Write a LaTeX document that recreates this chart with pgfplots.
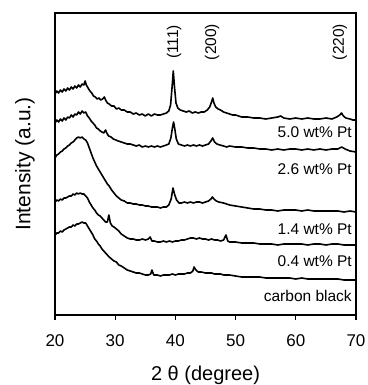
\documentclass[border=0pt]{standalone}
\usepackage{fontspec}
\setmainfont{Liberation Sans}
\usepackage{pgfplots}
\pgfplotsset{compat=1.18}
\pgfplotsset{xrd/.style={black, line width=1.6pt, line join=round, mark=none}}
\begin{document}
\begin{tikzpicture}
\path[use as bounding box] (-55pt,-70pt) rectangle (312pt,315pt);
\begin{axis}[
  at={(0,0)}, anchor=south west,
  scale only axis, width=301pt, height=302pt,
  xmin=20, xmax=70, ymin=0, ymax=302,
  xtick={20,30,40,50,60,70}, ytick=\empty,
  tick align=outside, xtick pos=left,
  major tick length=5pt,
  axis line style={line width=1.3pt},
  every tick/.style={black, line width=1.3pt},
  /pgf/number format/assume math mode=true,
  ticklabel style={font=\fontsize{17}{17}\selectfont},
  xticklabel style={yshift=-11pt},
  xlabel={2 θ (degree)},
  ylabel={Intensity (a.u.)},
  every axis x label/.style={at={(axis description cs:0.5,-0.199)}, anchor=center, font=\fontsize{20}{20}\selectfont},
  every axis y label/.style={at={(axis description cs:-0.0997,0.5)}, rotate=90, anchor=center, font=\fontsize{21}{21}\selectfont},
]
% 5.0 wt% Pt
\addplot[xrd] table {
x y
20.0 221
20.3 224
20.6 222
20.9 225
21.2 223
21.5 226
21.8 224
22.1 227
22.4 225
22.7 228
23.0 226
23.3 229
23.6 227
23.9 230
24.2 228
24.5 231
24.8 230
25.0 234
25.2 230
25.5 227
25.8 224
26.1 222
26.4 219
26.7 218
27.0 216
27.3 217
27.6 215
27.9 216
28.2 218
28.4 215
28.7 212
29.0 211
29.4 209
29.8 209
30.2 206
30.6 207
31.0 205
31.5 205
32.0 203
32.5 203
33.0 201
33.5 202
34.0 200
34.5 201
35.0 199
35.5 201
36.0 199
36.5 201
37.0 200
37.5 200
38.0 201
38.5 202
38.9 204
39.2 210
39.45 228
39.65 244
39.85 228
40.1 212
40.4 207
40.8 205
41.3 204
41.8 203
42.3 204
42.8 202
43.3 203
43.8 202
44.3 203
44.8 203
45.3 205
45.7 208
46.0 213
46.2 217
46.4 212
46.7 208
47.1 206
47.5 205
48.0 203
48.5 202
49.0 201
49.5 200
50.0 200
51.0 198
52.0 198
53.0 197
54.0 197
55.0 196
56.0 197
57.0 198
57.5 199
58.0 197
59.0 196
60.0 197
61.0 196
62.0 197
63.0 196
64.0 196
65.0 197
66.0 196
66.8 198
67.3 200
67.6 202
67.9 199
68.3 197
69.0 196
69.5 195
70.0 195
};
% 2.6 wt% Pt
\addplot[xrd] table {
x y
20.0 192
20.3 195
20.6 193
20.9 196
21.2 194
21.5 197
21.8 195
22.1 198
22.4 197
22.7 200
23.0 198
23.3 201
23.6 200
23.9 203
24.2 201
24.5 204
24.8 202
25.1 203
25.4 199
25.7 197
26.0 194
26.3 192
26.6 190
26.9 187
27.2 186
27.5 184
27.8 183
28.1 182
28.4 185
28.6 182
28.9 179
29.3 178
29.7 176
30.1 175
30.5 174
31.0 173
31.5 172
32.0 171
32.5 171
33.0 170
33.5 169
34.0 170
34.5 168
35.0 169
35.5 168
36.0 169
36.5 168
37.0 169
37.5 168
38.0 169
38.5 170
38.9 171
39.25 177
39.5 187
39.7 193
39.9 186
40.15 176
40.5 171
41.0 170
41.5 169
42.0 170
42.5 169
43.0 170
43.5 169
44.0 170
44.5 169
45.0 170
45.5 171
45.9 174
46.2 177
46.5 173
46.9 171
47.4 170
48.0 169
48.5 168
49.0 169
50.0 168
51.0 168
52.0 167
53.0 167
54.0 166
55.0 166
56.0 165
57.0 166
58.0 165
59.0 166
60.0 166
61.0 165
62.0 166
63.0 165
64.0 166
65.0 165
66.0 166
67.0 166
67.6 168
68.2 166
69.0 164
70.0 163
};
% 1.4 wt% Pt
\addplot[xrd] table {
x y
20.0 157
20.3 160
20.6 161
20.9 163
21.2 164
21.5 166
21.8 167
22.1 169
22.4 170
22.7 172
23.0 173
23.3 175
23.6 177
23.9 178
24.2 177
24.5 178
24.8 176
25.1 175
25.4 172
25.7 167
26.0 162
26.3 157
26.6 153
26.9 149
27.2 146
27.5 143
27.8 140
28.1 137
28.4 134
28.7 131
29.0 129
29.4 125
29.8 122
30.2 119
30.6 117
31.0 115
31.5 114
32.0 112
32.5 112
33.0 111
33.5 111
34.0 110
34.5 110
35.0 109
35.5 109
36.0 108
36.5 108
37.0 108
37.5 107
38.0 108
38.5 108
38.9 110
39.3 116
39.6 127
39.9 120
40.2 115
40.6 112
41.0 112
41.5 113
42.0 112
42.5 113
43.0 112
43.5 113
44.0 113
44.5 112
45.0 113
45.5 114
45.9 116
46.15 118
46.4 116
46.8 114
47.2 113
48.0 112
48.5 111
49.0 110
50.0 109
51.0 108
52.0 107
53.0 106
54.0 106
55.0 105
56.0 105
57.0 104
58.0 105
59.0 105
60.0 105
61.0 104
62.0 105
63.0 104
64.0 104
65.0 104
66.0 104
67.0 104
68.0 103
69.0 104
70.0 103
};
% 0.4 wt% Pt
\addplot[xrd] table {
x y
20.0 113
20.3 115
20.6 114
20.9 116
21.2 115
21.5 117
21.8 117
22.1 118
22.4 119
22.7 119
23.0 121
23.3 120
23.6 122
23.9 121
24.2 122
24.5 121
24.8 121
25.1 119
25.4 117
25.7 113
26.0 110
26.3 107
26.6 105
26.9 102
27.2 100
27.5 99
27.8 97
28.1 95
28.4 93
28.7 93
28.95 100
29.2 92
29.5 89
29.8 88
30.2 86
30.6 84
31.0 81
31.5 79
32.0 77
32.5 76
33.0 76
33.5 75
34.0 75
34.5 76
35.0 75
35.5 76
35.8 78
36.1 74
36.5 74
37.0 73
37.5 73
38.0 74
38.5 73
39.0 74
39.5 73
40.0 74
40.5 74
41.0 75
41.5 75
42.0 76
42.5 77
43.0 77
43.5 76
44.0 77
44.5 76
45.0 76
45.5 75
46.0 76
46.5 75
47.0 75
47.5 74
48.0 75
48.4 80
48.7 74
49.0 73
50.0 73
51.0 72
52.0 72
53.0 72
54.0 71
55.0 71
56.0 71
57.0 70
58.0 71
59.0 71
60.0 71
61.0 71
62.0 70
63.0 71
64.0 71
65.0 70
66.0 71
67.0 71
68.0 70
69.0 70
70.0 70
};
% carbon black
\addplot[xrd] table {
x y
20.0 80
20.3 82
20.6 82
20.9 84
21.2 83
21.5 85
21.8 86
22.1 87
22.4 88
22.7 88
23.0 90
23.3 89
23.6 91
23.9 91
24.2 92
24.5 93
24.8 92
25.1 92
25.4 89
25.7 86
26.0 83
26.3 80
26.6 76
26.9 74
27.2 71
27.5 69
27.8 66
28.1 64
28.4 62
28.7 60
29.0 58
29.4 56
29.8 54
30.2 53
30.6 50
31.0 49
31.5 47
32.0 45
32.5 44
33.0 43
33.5 42
34.0 42
34.5 41
35.0 40
35.5 40
35.9 41
36.1 45
36.4 40
37.0 40
37.5 39
38.0 40
38.5 40
39.0 40
39.5 41
40.0 40
40.5 41
41.0 41
41.5 41
42.0 42
42.5 42
42.9 44
43.1 48
43.4 45
43.8 43
44.3 43
45.0 42
45.5 42
46.0 42
46.5 41
47.0 41
47.5 41
48.0 40
49.0 40
50.0 39
51.0 38
52.0 38
53.0 38
54.0 38
55.0 37
56.0 37
57.0 37
58.0 37
59.0 37
60.0 36
61.0 37
62.0 36
63.0 36
64.0 36
65.0 36
66.0 36
67.0 36
68.0 35
69.0 35
70.0 35
};
\begin{scope}[every node/.style={font=\fontsize{15.5}{15.5}\selectfont, anchor=base east, inner sep=0pt}]
\node at (axis cs:69.33,177) {5.0 wt\% Pt};
\node at (axis cs:69.33,140) {2.6 wt\% Pt};
\node at (axis cs:69.33,80) {1.4 wt\% Pt};
\node at (axis cs:69.33,48) {0.4 wt\% Pt};
\node at (axis cs:69.33,13) {carbon black};
\end{scope}
\begin{scope}[every node/.style={font=\fontsize{15.5}{15.5}\selectfont, rotate=90, anchor=center, inner sep=0pt}]
\node at (axis cs:39.8,273) {(111)};
\node at (axis cs:46.1,273) {(200)};
\node at (axis cs:67.3,273) {(220)};
\end{scope}
\end{axis}
\end{tikzpicture}
\end{document}
